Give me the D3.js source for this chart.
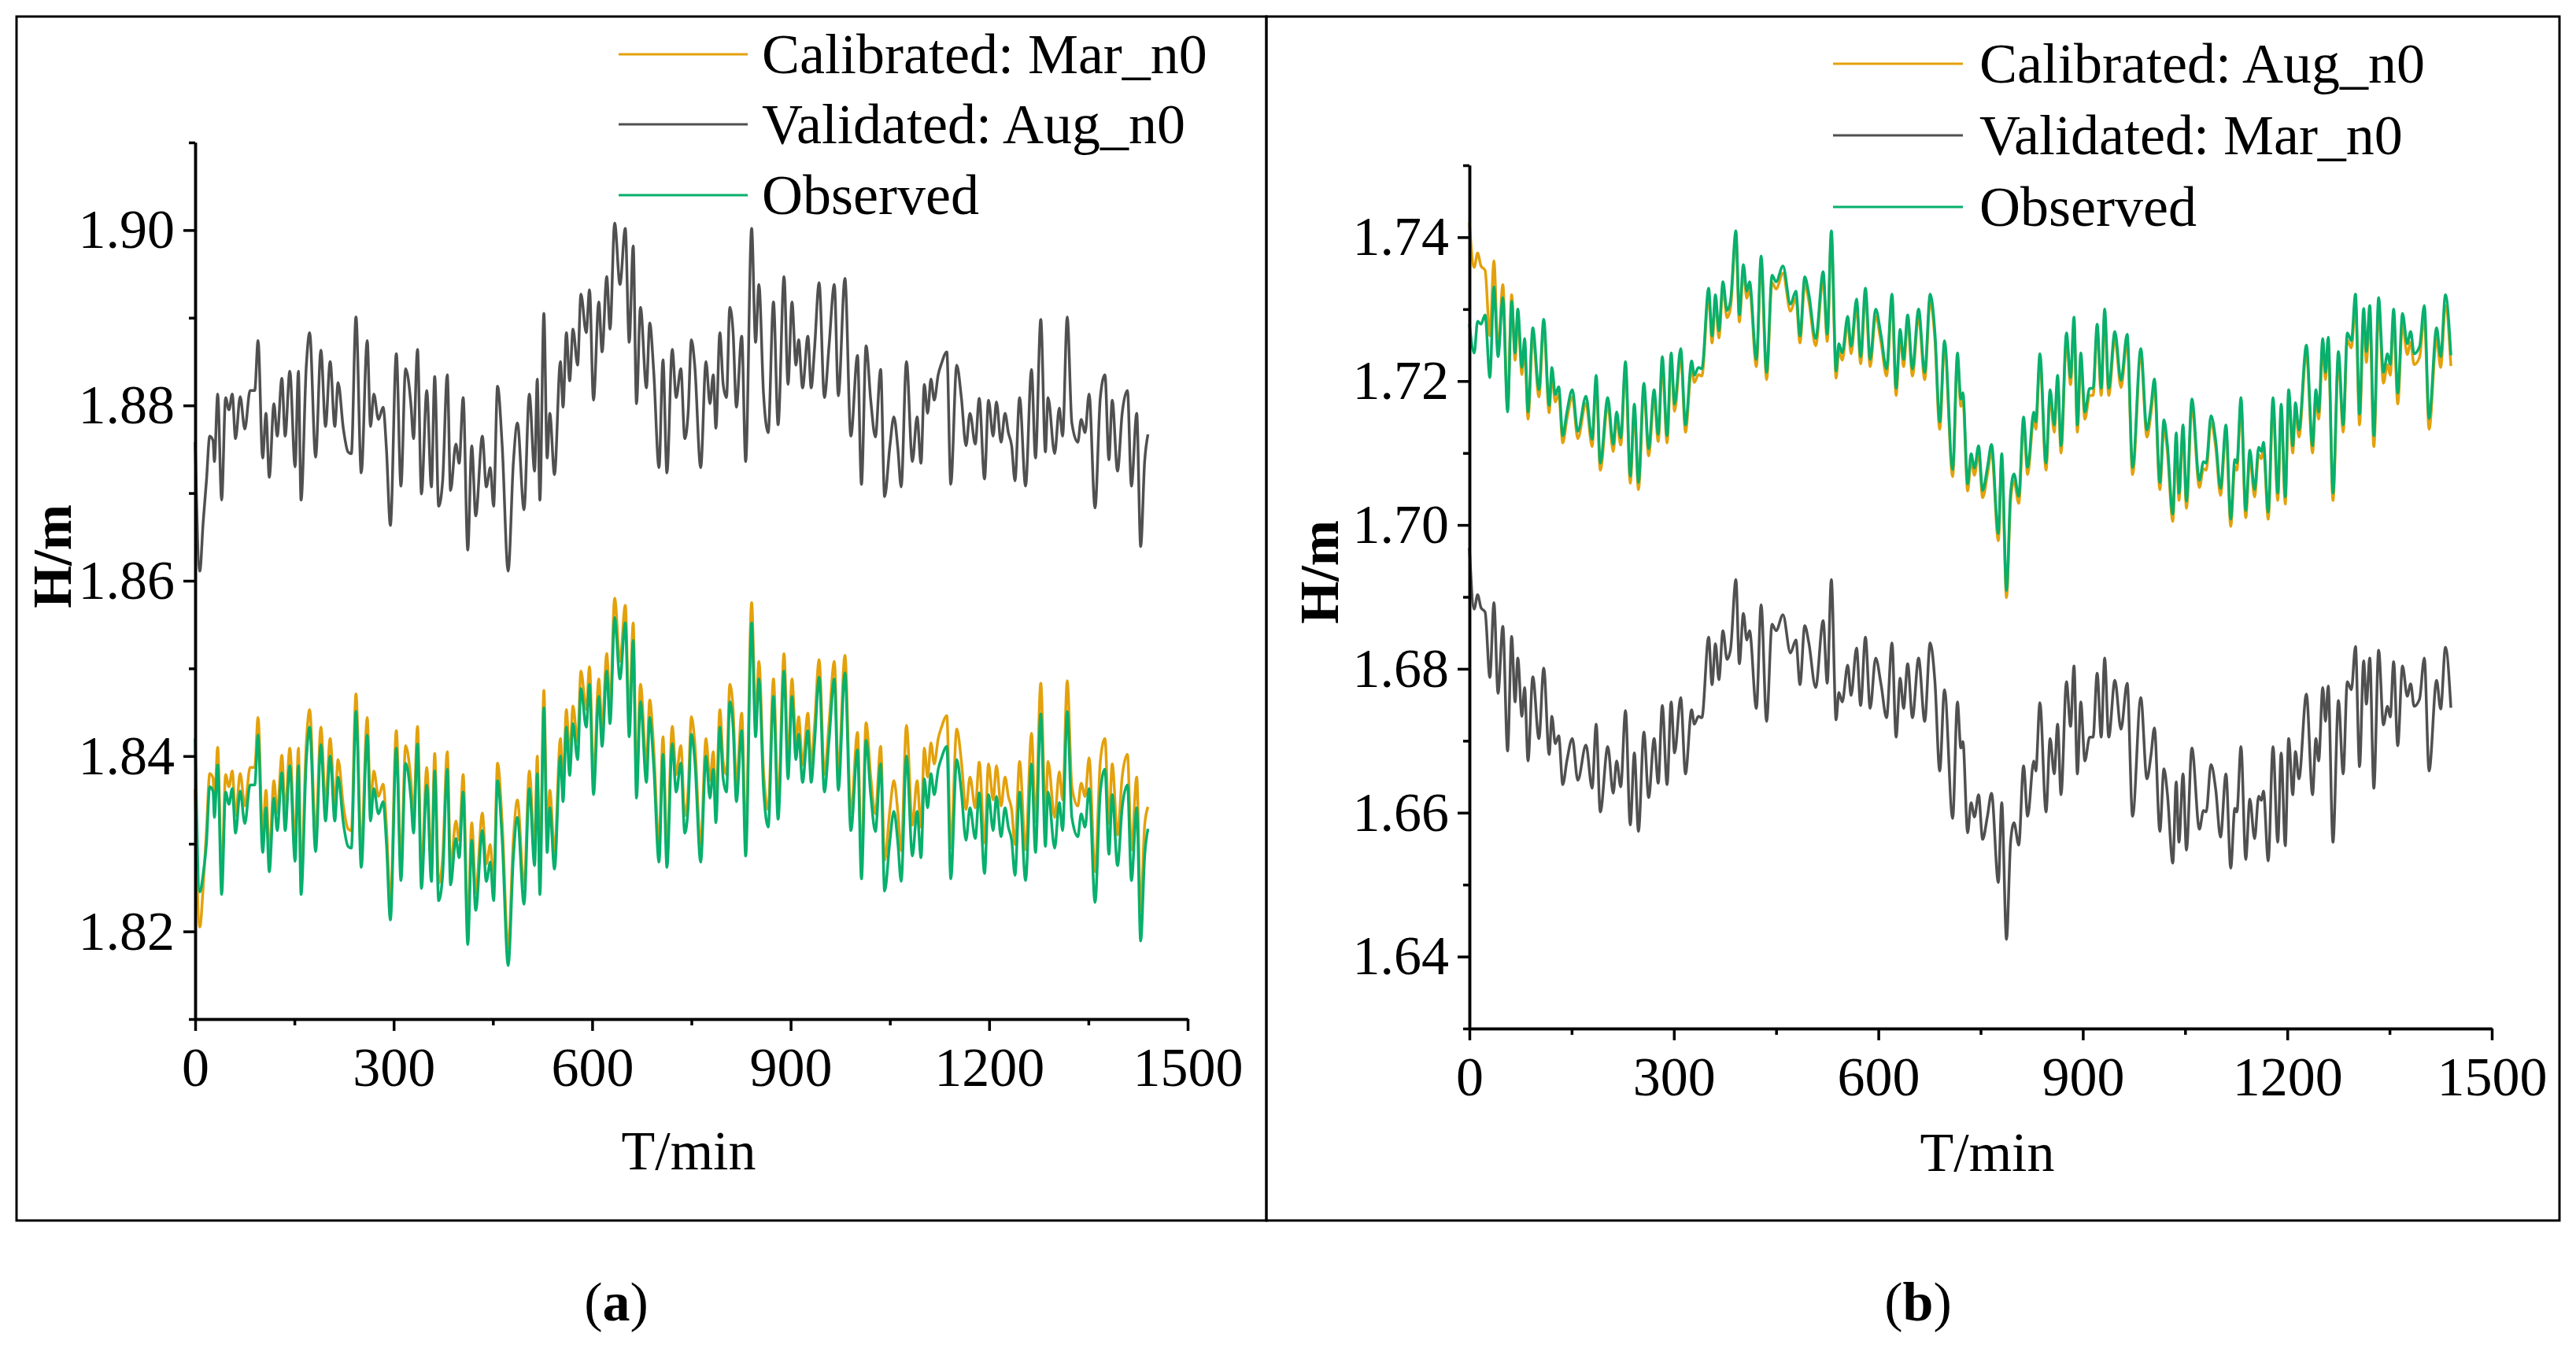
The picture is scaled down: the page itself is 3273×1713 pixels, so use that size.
<html>
<head>
  <meta http-equiv="Content-Type" content="text/html;charset=utf-8"/>
  <script src="https://cdn.jsdelivr.net/npm/d3@7/dist/d3.min.js"></script>
  <style>
    body { margin: 0; background: #fff; }
    svg text { font-family: "Liberation Serif", "Times New Roman", serif; fill: #000; }
    .axis path, .axis line { stroke: #000; stroke-width: 3.5; }
    .axis text { font-size: 70px; font-family: "Liberation Serif", serif; }
  </style>
</head>
<body>
<div id="placeholder"></div>
<script>
  // ---- panel (a) ----
  var aT = [0,7,12,17,22,27,29,34,40,46,51,56,61,68,75,83,90,95,102,107,112,119,124,131,136,143,151,156,160,168,
    173,182,190,197,204,211,216,224,231,236,243,251,260,265,270,277,284,289,295,304,311,318,326,330,336,342,350,357,362,368,
    374,381,386,394,399,405,412,418,424,434,440,446,451,457,464,473,481,487,497,505,513,517,521,527,532,536,543,552,556,561,
    566,571,578,583,591,596,602,610,615,622,627,634,642,650,656,662,667,673,682,687,693,701,707,713,721,727,734,740,745,750,
    755,764,772,778,783,787,793,798,803,808,813,818,826,832,841,847,852,859,866,874,881,890,896,902,908,912,918,926,931,936,
    943,951,958,966,972,982,991,1001,1007,1014,1021,1028,1036,1042,1050,1056,1062,1067,1075,1084,1091,1097,1102,1107,1112,1117,1123,1128,1136,1142,
    1151,1158,1165,1171,1179,1185,1193,1199,1206,1211,1218,1224,1229,1234,1239,1246,1255,1264,1270,1278,1285,1289,1299,1306,1311,1318,1325,1334,1339,1345,
    1351,1360,1368,1375,1381,1386,1394,1401,1409,1415,1423,1429,1435,1440];

  var aCal = [1.8362,1.8205,1.8250,1.8315,1.8380,1.8375,1.8345,1.8410,1.8262,1.8379,
    1.8365,1.8383,1.8332,1.8380,1.8343,1.8387,1.8387,1.8444,1.8310,1.8361,
    1.8288,1.8372,1.8335,1.8401,1.8335,1.8409,1.8300,1.8409,1.8262,1.8416,
    1.8453,1.8311,1.8433,1.8346,1.8420,1.8346,1.8396,1.8343,1.8317,1.8315,
    1.8471,1.8293,1.8444,1.8346,1.8383,1.8354,1.8368,1.8321,1.8233,1.8429,
    1.8278,1.8412,1.8372,1.8332,1.8434,1.8269,1.8387,1.8277,1.8403,1.8255,
    1.8284,1.8405,1.8273,1.8326,1.8304,1.8379,1.8205,1.8324,1.8244,1.8335,
    1.8277,1.8299,1.8255,1.8392,1.8324,1.8181,1.8306,1.8350,1.8251,1.8383,
    1.8295,1.8400,1.8262,1.8475,1.8310,1.8361,1.8291,1.8420,1.8368,1.8453,
    1.8398,1.8457,1.8416,1.8497,1.8453,1.8502,1.8376,1.8488,1.8431,1.8517,
    1.8457,1.8580,1.8508,1.8572,1.8442,1.8552,1.8372,1.8482,1.8390,1.8464,
    1.8409,1.8299,1.8422,1.8293,1.8434,1.8379,1.8412,1.8332,1.8361,1.8445,
    1.8416,1.8299,1.8420,1.8372,1.8405,1.8344,1.8453,1.8394,1.8379,1.8482,
    1.8453,1.8368,1.8449,1.8306,1.8575,1.8442,1.8508,1.8383,1.8339,1.8488,
    1.8348,1.8517,1.8394,1.8488,1.8416,1.8445,1.8390,1.8449,1.8390,1.8434,
    1.8510,1.8379,1.8438,1.8508,1.8381,1.8515,1.8335,1.8427,1.8280,1.8438,
    1.8376,1.8334,1.8411,1.8281,1.8339,1.8372,1.8336,1.8292,1.8435,1.8321,
    1.8372,1.8319,1.8409,1.8376,1.8415,1.8391,1.8420,1.8433,1.8446,1.8295,
    1.8431,1.8394,1.8339,1.8376,1.8341,1.8393,1.8301,1.8391,1.8350,1.8389,
    1.8343,1.8376,1.8354,1.8339,1.8299,1.8394,1.8293,1.8426,1.8325,1.8483,
    1.8332,1.8394,1.8330,1.8382,1.8350,1.8486,1.8365,1.8343,1.8369,1.8354,
    1.8398,1.8268,1.8394,1.8420,1.8323,1.8391,1.8310,1.8376,1.8402,1.8293,
    1.8376,1.8224,1.8321,1.8342];

  var aVal = [1.8758,1.8611,1.8666,1.8714,1.8765,1.8760,1.8736,1.8813,1.8692,1.8809,
    1.8795,1.8813,1.8762,1.8810,1.8773,1.8817,1.8817,1.8874,1.8740,1.8791,
    1.8718,1.8802,1.8765,1.8831,1.8765,1.8839,1.8730,1.8839,1.8692,1.8846,
    1.8883,1.8741,1.8863,1.8776,1.8850,1.8776,1.8826,1.8773,1.8747,1.8745,
    1.8901,1.8723,1.8874,1.8776,1.8813,1.8784,1.8798,1.8751,1.8663,1.8859,
    1.8708,1.8842,1.8802,1.8762,1.8864,1.8699,1.8817,1.8707,1.8833,1.8685,
    1.8714,1.8835,1.8703,1.8756,1.8734,1.8809,1.8635,1.8754,1.8674,1.8765,
    1.8707,1.8729,1.8685,1.8822,1.8754,1.8611,1.8736,1.8780,1.8681,1.8813,
    1.8725,1.8830,1.8692,1.8905,1.8740,1.8791,1.8721,1.8850,1.8798,1.8883,
    1.8828,1.8887,1.8846,1.8927,1.8883,1.8932,1.8806,1.8918,1.8861,1.8947,
    1.8887,1.9008,1.8938,1.9002,1.8872,1.8982,1.8802,1.8912,1.8820,1.8894,
    1.8839,1.8729,1.8852,1.8723,1.8864,1.8809,1.8842,1.8762,1.8791,1.8875,
    1.8846,1.8729,1.8850,1.8802,1.8835,1.8774,1.8883,1.8824,1.8809,1.8912,
    1.8883,1.8798,1.8879,1.8736,1.9002,1.8872,1.8938,1.8813,1.8769,1.8918,
    1.8778,1.8947,1.8824,1.8918,1.8846,1.8875,1.8820,1.8879,1.8820,1.8864,
    1.8940,1.8809,1.8868,1.8938,1.8811,1.8945,1.8765,1.8857,1.8710,1.8868,
    1.8806,1.8764,1.8841,1.8696,1.8754,1.8787,1.8751,1.8707,1.8850,1.8736,
    1.8787,1.8734,1.8824,1.8791,1.8830,1.8806,1.8835,1.8848,1.8861,1.8710,
    1.8846,1.8809,1.8754,1.8791,1.8756,1.8808,1.8716,1.8806,1.8765,1.8804,
    1.8758,1.8791,1.8769,1.8754,1.8714,1.8809,1.8708,1.8841,1.8740,1.8898,
    1.8747,1.8809,1.8745,1.8797,1.8765,1.8901,1.8780,1.8758,1.8784,1.8769,
    1.8813,1.8683,1.8809,1.8835,1.8738,1.8806,1.8725,1.8791,1.8817,1.8708,
    1.8791,1.8639,1.8736,1.8767];

  var aObs = [1.8420,1.8245,1.8265,1.8300,1.8365,1.8360,1.8330,1.8390,1.8242,1.8359,
    1.8345,1.8363,1.8312,1.8360,1.8323,1.8367,1.8367,1.8424,1.8290,1.8341,
    1.8268,1.8352,1.8315,1.8381,1.8315,1.8389,1.8280,1.8389,1.8242,1.8396,
    1.8433,1.8291,1.8413,1.8326,1.8400,1.8326,1.8376,1.8323,1.8297,1.8295,
    1.8451,1.8273,1.8424,1.8326,1.8363,1.8334,1.8348,1.8301,1.8213,1.8409,
    1.8258,1.8392,1.8352,1.8312,1.8414,1.8249,1.8367,1.8257,1.8383,1.8235,
    1.8264,1.8385,1.8253,1.8306,1.8284,1.8359,1.8185,1.8304,1.8224,1.8315,
    1.8257,1.8279,1.8235,1.8372,1.8304,1.8161,1.8286,1.8330,1.8231,1.8363,
    1.8275,1.8380,1.8242,1.8455,1.8290,1.8341,1.8271,1.8400,1.8348,1.8433,
    1.8378,1.8437,1.8396,1.8477,1.8433,1.8482,1.8356,1.8468,1.8411,1.8497,
    1.8437,1.8558,1.8488,1.8552,1.8422,1.8532,1.8352,1.8462,1.8370,1.8444,
    1.8389,1.8279,1.8402,1.8273,1.8414,1.8359,1.8392,1.8312,1.8341,1.8425,
    1.8396,1.8279,1.8400,1.8352,1.8385,1.8324,1.8433,1.8374,1.8359,1.8462,
    1.8433,1.8348,1.8429,1.8286,1.8552,1.8422,1.8488,1.8363,1.8319,1.8468,
    1.8328,1.8497,1.8374,1.8468,1.8396,1.8425,1.8370,1.8429,1.8370,1.8414,
    1.8490,1.8359,1.8418,1.8488,1.8361,1.8495,1.8315,1.8407,1.8260,1.8418,
    1.8356,1.8314,1.8391,1.8246,1.8304,1.8337,1.8301,1.8257,1.8400,1.8286,
    1.8337,1.8284,1.8374,1.8341,1.8380,1.8356,1.8385,1.8398,1.8411,1.8260,
    1.8396,1.8359,1.8304,1.8341,1.8306,1.8358,1.8266,1.8356,1.8315,1.8354,
    1.8308,1.8341,1.8319,1.8304,1.8264,1.8359,1.8258,1.8391,1.8290,1.8448,
    1.8297,1.8359,1.8295,1.8347,1.8315,1.8451,1.8330,1.8308,1.8334,1.8319,
    1.8363,1.8233,1.8359,1.8385,1.8288,1.8356,1.8275,1.8341,1.8367,1.8258,
    1.8341,1.8189,1.8286,1.8317];

  // ---- panel (b) ----
  var bT = [0,7,12,17,23,30,36,42,49,56,62,67,71,77,81,86,93,102,109,117,
    121,126,131,137,143,151,159,171,180,186,192,203,211,216,222,229,236,242,248,256,
    263,271,277,283,290,296,301,310,317,326,330,336,341,351,356,361,366,372,378,383,
    391,396,402,407,411,421,428,436,444,450,460,471,479,485,492,498,508,519,525,531,
    538,542,547,555,560,568,574,581,588,596,604,612,620,626,632,637,643,650,659,668,
    676,683,690,697,709,716,721,724,731,736,741,747,753,760,766,776,781,788,794,799,
    806,813,819,828,831,837,846,852,858,863,868,876,882,887,892,897,903,910,915,921,
    927,932,938,947,956,965,973,985,994,1000,1005,1013,1019,1024,1032,1037,1041,1047,1052,1060,
    1071,1077,1081,1088,1095,1102,1110,1117,1123,1126,1132,1139,1145,1152,1158,1162,1165,1172,1179,1186,
    1191,1197,1202,1208,1212,1217,1228,1237,1242,1246,1252,1256,1260,1267,1275,1282,1288,1294,1300,1306,
    1312,1316,1321,1327,1334,1341,1347,1351,1356,1362,1369,1376,1381,1386,1394,1401,1408,1419,1425,1432,
    1440];

  var bCal = [1.7420,1.7358,1.7378,1.7360,1.7354,1.7263,1.7367,1.7241,1.7334,1.7161,
    1.7320,1.7229,1.7290,1.7209,1.7249,1.7147,1.7264,1.7178,1.7276,1.7156,
    1.7209,1.7171,1.7182,1.7114,1.7147,1.7178,1.7120,1.7169,1.7109,1.7198,
    1.7076,1.7167,1.7102,1.7147,1.7111,1.7217,1.7058,1.7158,1.7049,1.7187,
    1.7096,1.7178,1.7116,1.7224,1.7114,1.7229,1.7158,1.7235,1.7129,1.7218,
    1.7198,1.7209,1.7207,1.7319,1.7253,1.7310,1.7260,1.7328,1.7288,1.7301,
    1.7399,1.7282,1.7352,1.7315,1.7328,1.7220,1.7364,1.7202,1.7337,1.7328,
    1.7350,1.7297,1.7315,1.7253,1.7335,1.7311,1.7249,1.7342,1.7255,1.7399,
    1.7204,1.7242,1.7229,1.7280,1.7238,1.7304,1.7224,1.7319,1.7220,1.7290,
    1.7253,1.7207,1.7311,1.7180,1.7262,1.7220,1.7282,1.7207,1.7290,1.7202,
    1.7311,1.7257,1.7133,1.7246,1.7067,1.7229,1.7165,1.7174,1.7047,1.7089,
    1.7069,1.7100,1.7038,1.7070,1.7102,1.6978,1.7089,1.6899,1.7034,1.7061,
    1.7030,1.7140,1.7070,1.7147,1.7133,1.7228,1.7076,1.7178,1.7129,1.7198,
    1.7100,1.7257,1.7195,1.7279,1.7129,1.7229,1.7147,1.7180,1.7180,1.7269,
    1.7180,1.7290,1.7180,1.7259,1.7191,1.7255,1.7070,1.7235,1.7122,1.7155,
    1.7193,1.7049,1.7136,1.7102,1.7005,1.7118,1.7034,1.7129,1.7023,1.7165,
    1.7052,1.7078,1.7076,1.7142,1.7107,1.7041,1.7129,1.6998,1.7081,1.7076,
    1.7167,1.7010,1.7094,1.7039,1.7098,1.7092,1.7105,1.7008,1.7167,1.7034,
    1.7158,1.7029,1.7178,1.7100,1.7160,1.7122,1.7240,1.7100,1.7178,1.7147,
    1.7249,1.7202,1.7251,1.7034,1.7231,1.7129,1.7257,1.7246,1.7306,1.7139,
    1.7286,1.7226,1.7290,1.7109,1.7301,1.7197,1.7223,1.7208,1.7285,1.7168,
    1.7279,1.7237,1.7254,1.7223,1.7233,1.7290,1.7133,1.7259,1.7219,1.7305,
    1.7221];

  var bVal = [1.6968,1.6883,1.6903,1.6885,1.6879,1.6788,1.6892,1.6766,1.6859,1.6686,
    1.6845,1.6754,1.6815,1.6734,1.6774,1.6672,1.6789,1.6703,1.6801,1.6681,
    1.6734,1.6696,1.6707,1.6639,1.6672,1.6703,1.6645,1.6694,1.6634,1.6723,
    1.6601,1.6692,1.6627,1.6672,1.6636,1.6742,1.6583,1.6683,1.6574,1.6712,
    1.6621,1.6703,1.6641,1.6749,1.6639,1.6754,1.6683,1.6760,1.6654,1.6743,
    1.6723,1.6734,1.6732,1.6844,1.6778,1.6835,1.6785,1.6853,1.6813,1.6826,
    1.6924,1.6807,1.6877,1.6840,1.6853,1.6745,1.6889,1.6727,1.6862,1.6853,
    1.6875,1.6822,1.6840,1.6778,1.6860,1.6836,1.6774,1.6867,1.6780,1.6924,
    1.6729,1.6767,1.6754,1.6805,1.6763,1.6829,1.6749,1.6844,1.6745,1.6815,
    1.6778,1.6732,1.6836,1.6705,1.6787,1.6745,1.6807,1.6732,1.6815,1.6727,
    1.6836,1.6782,1.6658,1.6771,1.6592,1.6754,1.6690,1.6699,1.6572,1.6614,
    1.6594,1.6625,1.6563,1.6595,1.6627,1.6503,1.6614,1.6424,1.6559,1.6586,
    1.6555,1.6665,1.6595,1.6672,1.6658,1.6753,1.6601,1.6703,1.6654,1.6723,
    1.6625,1.6782,1.6720,1.6804,1.6654,1.6754,1.6672,1.6705,1.6705,1.6794,
    1.6705,1.6815,1.6705,1.6784,1.6716,1.6780,1.6595,1.6760,1.6647,1.6680,
    1.6718,1.6574,1.6661,1.6627,1.6530,1.6643,1.6559,1.6654,1.6548,1.6690,
    1.6577,1.6603,1.6601,1.6667,1.6632,1.6566,1.6654,1.6523,1.6606,1.6601,
    1.6692,1.6535,1.6619,1.6564,1.6623,1.6617,1.6630,1.6533,1.6692,1.6559,
    1.6683,1.6554,1.6703,1.6625,1.6685,1.6647,1.6765,1.6625,1.6703,1.6672,
    1.6774,1.6727,1.6776,1.6559,1.6756,1.6654,1.6782,1.6771,1.6831,1.6664,
    1.6811,1.6751,1.6815,1.6634,1.6826,1.6722,1.6748,1.6733,1.6810,1.6693,
    1.6804,1.6762,1.6779,1.6748,1.6758,1.6815,1.6658,1.6784,1.6744,1.6830,
    1.6746];

  var bObs = [1.7279,1.7239,1.7283,1.7279,1.7292,1.7205,1.7331,1.7234,1.7316,1.7157,
    1.7311,1.7239,1.7300,1.7219,1.7259,1.7157,1.7274,1.7188,1.7286,1.7166,
    1.7219,1.7181,1.7192,1.7124,1.7157,1.7188,1.7130,1.7179,1.7119,1.7208,
    1.7086,1.7177,1.7112,1.7157,1.7121,1.7227,1.7068,1.7168,1.7059,1.7197,
    1.7106,1.7188,1.7126,1.7234,1.7124,1.7239,1.7168,1.7245,1.7139,1.7228,
    1.7208,1.7219,1.7217,1.7329,1.7263,1.7320,1.7270,1.7338,1.7298,1.7311,
    1.7409,1.7292,1.7362,1.7325,1.7338,1.7230,1.7374,1.7212,1.7347,1.7338,
    1.7360,1.7307,1.7325,1.7263,1.7345,1.7321,1.7259,1.7352,1.7265,1.7409,
    1.7214,1.7252,1.7239,1.7290,1.7248,1.7314,1.7234,1.7329,1.7230,1.7300,
    1.7263,1.7217,1.7321,1.7190,1.7272,1.7230,1.7292,1.7217,1.7300,1.7212,
    1.7321,1.7267,1.7143,1.7256,1.7077,1.7239,1.7175,1.7184,1.7057,1.7099,
    1.7079,1.7110,1.7048,1.7080,1.7112,1.6988,1.7099,1.6909,1.7044,1.7071,
    1.7040,1.7150,1.7080,1.7157,1.7143,1.7238,1.7086,1.7188,1.7139,1.7208,
    1.7110,1.7267,1.7205,1.7289,1.7139,1.7239,1.7157,1.7190,1.7190,1.7279,
    1.7190,1.7300,1.7190,1.7269,1.7201,1.7265,1.7080,1.7245,1.7132,1.7165,
    1.7203,1.7059,1.7146,1.7112,1.7015,1.7128,1.7044,1.7139,1.7033,1.7175,
    1.7062,1.7088,1.7086,1.7152,1.7117,1.7051,1.7139,1.7008,1.7091,1.7086,
    1.7177,1.7020,1.7104,1.7049,1.7108,1.7102,1.7115,1.7018,1.7177,1.7044,
    1.7168,1.7039,1.7188,1.7110,1.7170,1.7132,1.7250,1.7110,1.7188,1.7157,
    1.7259,1.7212,1.7261,1.7044,1.7241,1.7139,1.7267,1.7256,1.7321,1.7154,
    1.7301,1.7241,1.7305,1.7124,1.7316,1.7212,1.7238,1.7223,1.7300,1.7183,
    1.7294,1.7252,1.7269,1.7238,1.7248,1.7305,1.7148,1.7274,1.7234,1.7320,
    1.7236];

  // ticks
  var xMajor = [0, 300, 600, 900, 1200, 1500];
  var xMinor = [150, 450, 750, 1050, 1350];
  var aYMajor = [1.82, 1.84, 1.86, 1.88, 1.90];
  var aYMinor = [1.81, 1.83, 1.85, 1.87, 1.89, 1.91];
  var bYMajor = [1.64, 1.66, 1.68, 1.70, 1.72, 1.74];
  var bYMinor = [1.63, 1.65, 1.67, 1.69, 1.71, 1.73, 1.75];

  var aLegend = ["Calibrated: Mar_n0", "Validated: Aug_n0", "Observed"];
  var bLegend = ["Calibrated: Aug_n0", "Validated: Mar_n0", "Observed"];

  var ORANGE = "#e3a10b", GRAY = "#505050", GREEN = "#07b06c";

  var W = 3273, H = 1713;
  var svg = d3.select("#placeholder").append("svg")
    .attr("width", W).attr("height", H)
    .style("display", "block");

  // panel frames
  svg.append("rect").attr("x", 21).attr("y", 21).attr("width", 1588).attr("height", 1530)
    .attr("fill", "none").attr("stroke", "#000").attr("stroke-width", 3);
  svg.append("rect").attr("x", 1609).attr("y", 21).attr("width", 1643).attr("height", 1530)
    .attr("fill", "none").attr("stroke", "#000").attr("stroke-width", 3);

  function panel(opt) {
    var x = d3.scaleLinear().domain([0, 1500]).range(opt.xr);
    var y = d3.scaleLinear().domain(opt.yd).range(opt.yr);
    var g = svg.append("g");

    var line = d3.line()
      .x(function(d) { return x(d[0]); })
      .y(function(d) { return y(d[1]); })
      .curve(d3.curveMonotoneX);

    opt.series.forEach(function(s) {
      g.append("path")
        .datum(d3.zip(opt.t, s.v))
        .attr("d", line)
        .attr("fill", "none")
        .attr("stroke", s.color)
        .attr("stroke-width", 3.5)
        .attr("stroke-linejoin", "round");
    });

    // axes: majors with labels, minors as short ticks
    g.append("g").attr("class", "axis")
      .attr("transform", "translate(0," + opt.yr[0] + ")")
      .call(d3.axisBottom(x).tickValues(xMinor).tickSize(8).tickSizeOuter(0).tickFormat(""));
    g.append("g").attr("class", "axis")
      .attr("transform", "translate(0," + opt.yr[0] + ")")
      .call(d3.axisBottom(x).tickValues(xMajor).tickSize(15).tickSizeOuter(0).tickPadding(20).tickFormat(d3.format("d")));
    g.append("g").attr("class", "axis")
      .attr("transform", "translate(" + opt.xr[0] + ",0)")
      .call(d3.axisLeft(y).tickValues(opt.yMinor).tickSize(8).tickSizeOuter(0).tickFormat(""));
    g.append("g").attr("class", "axis")
      .attr("transform", "translate(" + opt.xr[0] + ",0)")
      .call(d3.axisLeft(y).tickValues(opt.yMajor).tickSize(15).tickSizeOuter(0).tickPadding(11).tickFormat(d3.format(".2f")));
    g.selectAll(".axis text").attr("fill", "#000");

    // axis titles
    g.append("text")
      .attr("x", opt.xTitle[0]).attr("y", opt.xTitle[1])
      .attr("text-anchor", "middle")
      .style("font-size", "70px")
      .text("T/min");
    g.append("text")
      .attr("transform", "translate(" + opt.yTitle[0] + "," + opt.yTitle[1] + ") rotate(-90)")
      .attr("text-anchor", "middle")
      .style("font-size", "70px")
      .style("font-weight", "bold")
      .text("H/m");

    // legend
    var colors = [ORANGE, GRAY, GREEN];
    opt.legend.forEach(function(name, i) {
      var ly = opt.legY[i];
      g.append("line")
        .attr("x1", opt.legX[0]).attr("x2", opt.legX[1])
        .attr("y1", ly).attr("y2", ly)
        .attr("stroke", colors[i]).attr("stroke-width", 3);
      g.append("text")
        .attr("x", opt.legX[2]).attr("y", ly + 24)
        .style("font-size", "72px")
        .text(name);
    });

    // caption
    var cap = g.append("text")
      .attr("x", opt.cap[0]).attr("y", opt.cap[1])
      .attr("text-anchor", "middle")
      .style("font-size", "70px");
    cap.append("tspan").text("(");
    cap.append("tspan").style("font-weight", "bold").text(opt.letter);
    cap.append("tspan").text(")");
  }

  panel({
    t: aT,
    series: [{ v: aVal, color: GRAY }, { v: aCal, color: ORANGE }, { v: aObs, color: GREEN }],
    xr: [248, 1509], yd: [1.81, 1.91], yr: [1295, 181],
    yMajor: aYMajor, yMinor: aYMinor,
    xTitle: [875, 1486], yTitle: [90, 707],
    legend: aLegend, legY: [69, 158, 248], legX: [786, 950, 968],
    cap: [783, 1678], letter: "a"
  });

  panel({
    t: bT,
    series: [{ v: bVal, color: GRAY }, { v: bCal, color: ORANGE }, { v: bObs, color: GREEN }],
    xr: [1867, 3166], yd: [1.63, 1.75], yr: [1307, 210],
    yMajor: bYMajor, yMinor: bYMinor,
    xTitle: [2525, 1488], yTitle: [1700, 727],
    legend: bLegend, legY: [81, 172, 263], legX: [2329, 2494, 2515],
    cap: [2437, 1678], letter: "b"
  });
</script>
</body>
</html>
